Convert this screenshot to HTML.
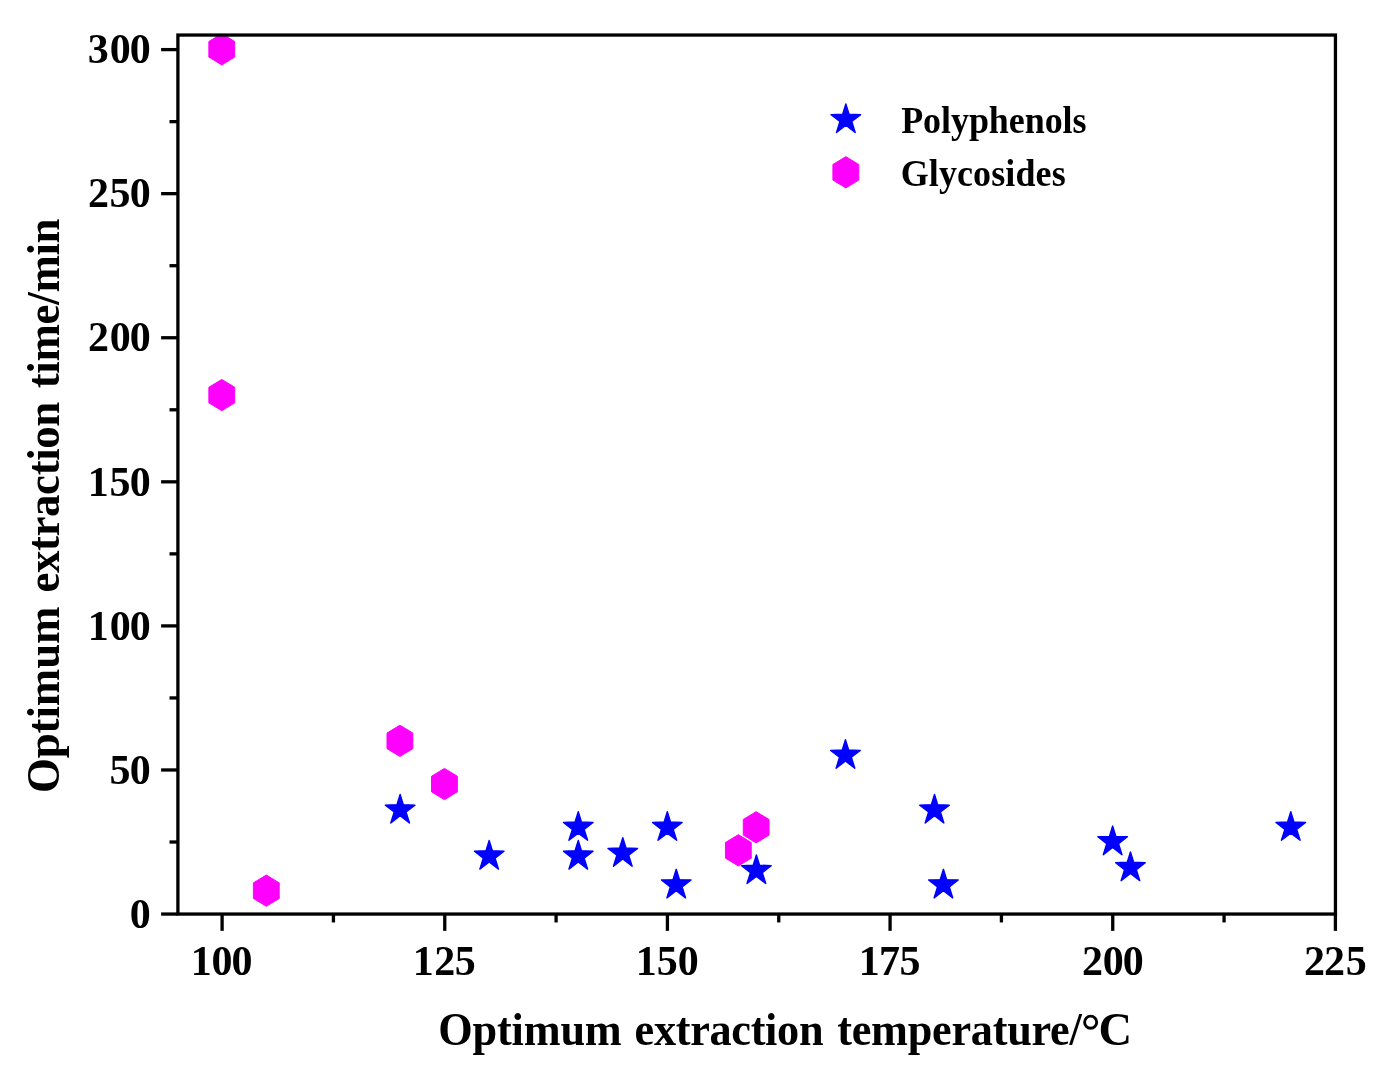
<!DOCTYPE html>
<html><head><meta charset="utf-8"><title>Chart</title>
<style>
html,body{margin:0;padding:0;background:#fff;}
body{width:1398px;height:1068px;overflow:hidden;}
svg{display:block;will-change:transform;}
text{font-family:"Liberation Serif",serif;font-weight:bold;fill:#000;}
.tk{font-size:42.0px;letter-spacing:0px;}
.ti{font-size:44.3px;}
.ti2{font-size:44.9px;}
.lg{font-size:36px;}
</style></head><body>
<svg width="1398" height="1068" viewBox="0 0 1398 1068">
<rect x="0" y="0" width="1398" height="1068" fill="#fff"/>
<defs><clipPath id="plot"><rect x="177.9" y="35.05" width="1157.55" height="879.0"/></clipPath></defs>
<g clip-path="url(#plot)">
<polygon points="400.13,794.39 403.32,804.67 414.93,805.12 406.03,812.07 409.48,823.02 400.13,815.82 390.78,823.02 394.23,812.07 385.33,805.12 396.94,804.67" fill="#0000ff" stroke="#0000ff" stroke-width="1.4" stroke-linejoin="round"/>
<polygon points="489.19,840.49 492.38,850.77 503.99,851.22 495.09,858.17 498.54,869.12 489.19,861.92 479.84,869.12 483.29,858.17 474.39,851.22 486.00,850.77" fill="#0000ff" stroke="#0000ff" stroke-width="1.4" stroke-linejoin="round"/>
<polygon points="578.26,811.68 581.45,821.96 593.06,822.40 584.16,829.36 587.61,840.31 578.26,833.11 568.91,840.31 572.36,829.36 563.46,822.40 575.07,821.96" fill="#0000ff" stroke="#0000ff" stroke-width="1.4" stroke-linejoin="round"/>
<polygon points="578.26,840.49 581.45,850.77 593.06,851.22 584.16,858.17 587.61,869.12 578.26,861.92 568.91,869.12 572.36,858.17 563.46,851.22 575.07,850.77" fill="#0000ff" stroke="#0000ff" stroke-width="1.4" stroke-linejoin="round"/>
<polygon points="622.79,837.61 625.98,847.89 637.59,848.34 628.69,855.29 632.14,866.24 622.79,859.04 613.44,866.24 616.89,855.29 607.99,848.34 619.60,847.89" fill="#0000ff" stroke="#0000ff" stroke-width="1.4" stroke-linejoin="round"/>
<polygon points="667.32,811.68 670.51,821.96 682.12,822.40 673.22,829.36 676.67,840.31 667.32,833.11 657.97,840.31 661.42,829.36 652.52,822.40 664.13,821.96" fill="#0000ff" stroke="#0000ff" stroke-width="1.4" stroke-linejoin="round"/>
<polygon points="676.23,869.30 679.42,879.58 691.03,880.03 682.13,886.98 685.58,897.93 676.23,890.73 666.88,897.93 670.33,886.98 661.43,880.03 673.04,879.58" fill="#0000ff" stroke="#0000ff" stroke-width="1.4" stroke-linejoin="round"/>
<polygon points="756.38,854.90 759.57,865.18 771.18,865.63 762.28,872.58 765.73,883.53 756.38,876.33 747.03,883.53 750.48,872.58 741.58,865.63 753.19,865.18" fill="#0000ff" stroke="#0000ff" stroke-width="1.4" stroke-linejoin="round"/>
<polygon points="845.45,739.64 848.64,749.92 860.25,750.37 851.35,757.32 854.80,768.27 845.45,761.07 836.10,768.27 839.55,757.32 830.65,750.37 842.26,749.92" fill="#0000ff" stroke="#0000ff" stroke-width="1.4" stroke-linejoin="round"/>
<polygon points="934.51,794.39 937.70,804.67 949.31,805.12 940.41,812.07 943.86,823.02 934.51,815.82 925.16,823.02 928.61,812.07 919.71,805.12 931.32,804.67" fill="#0000ff" stroke="#0000ff" stroke-width="1.4" stroke-linejoin="round"/>
<polygon points="943.42,869.30 946.61,879.58 958.22,880.03 949.32,886.98 952.77,897.93 943.42,890.73 934.07,897.93 937.52,886.98 928.62,880.03 940.23,879.58" fill="#0000ff" stroke="#0000ff" stroke-width="1.4" stroke-linejoin="round"/>
<polygon points="1112.64,826.08 1115.83,836.36 1127.44,836.81 1118.54,843.76 1121.99,854.71 1112.64,847.51 1103.29,854.71 1106.74,843.76 1097.84,836.81 1109.45,836.36" fill="#0000ff" stroke="#0000ff" stroke-width="1.4" stroke-linejoin="round"/>
<polygon points="1130.45,852.02 1133.64,862.30 1145.25,862.75 1136.35,869.70 1139.80,880.65 1130.45,873.45 1121.10,880.65 1124.55,869.70 1115.65,862.75 1127.26,862.30" fill="#0000ff" stroke="#0000ff" stroke-width="1.4" stroke-linejoin="round"/>
<polygon points="1290.77,811.68 1293.96,821.96 1305.57,822.40 1296.67,829.36 1300.12,840.31 1290.77,833.11 1281.42,840.31 1284.87,829.36 1275.97,822.40 1287.58,821.96" fill="#0000ff" stroke="#0000ff" stroke-width="1.4" stroke-linejoin="round"/>
<polygon points="221.77,33.64 234.67,41.46 234.67,57.09 221.77,64.90 208.87,57.09 208.87,41.46" fill="#ff00ff" stroke="#ff00ff" stroke-width="1.0" stroke-linejoin="round"/>
<polygon points="221.77,379.42 234.67,387.24 234.67,402.87 221.77,410.68 208.87,402.87 208.87,387.24" fill="#ff00ff" stroke="#ff00ff" stroke-width="1.0" stroke-linejoin="round"/>
<polygon points="266.30,875.04 279.20,882.85 279.20,898.48 266.30,906.30 253.40,898.48 253.40,882.85" fill="#ff00ff" stroke="#ff00ff" stroke-width="1.0" stroke-linejoin="round"/>
<polygon points="399.90,725.20 412.80,733.01 412.80,748.64 399.90,756.46 387.00,748.64 387.00,733.01" fill="#ff00ff" stroke="#ff00ff" stroke-width="1.0" stroke-linejoin="round"/>
<polygon points="444.43,768.42 457.33,776.24 457.33,791.87 444.43,799.68 431.53,791.87 431.53,776.24" fill="#ff00ff" stroke="#ff00ff" stroke-width="1.0" stroke-linejoin="round"/>
<polygon points="738.34,834.70 751.24,842.51 751.24,858.14 738.34,865.96 725.44,858.14 725.44,842.51" fill="#ff00ff" stroke="#ff00ff" stroke-width="1.0" stroke-linejoin="round"/>
<polygon points="756.15,811.64 769.05,819.46 769.05,835.09 756.15,842.90 743.25,835.09 743.25,819.46" fill="#ff00ff" stroke="#ff00ff" stroke-width="1.0" stroke-linejoin="round"/>
</g>
<g stroke="#000" stroke-width="3.3" fill="none" stroke-linecap="butt">
<rect x="177.9" y="35.05" width="1157.55" height="879.0"/>
<line x1="161.10" y1="914.05" x2="177.90" y2="914.05"/>
<line x1="169.50" y1="842.01" x2="177.90" y2="842.01"/>
<line x1="161.10" y1="769.97" x2="177.90" y2="769.97"/>
<line x1="169.50" y1="697.94" x2="177.90" y2="697.94"/>
<line x1="161.10" y1="625.90" x2="177.90" y2="625.90"/>
<line x1="169.50" y1="553.86" x2="177.90" y2="553.86"/>
<line x1="161.10" y1="481.82" x2="177.90" y2="481.82"/>
<line x1="169.50" y1="409.79" x2="177.90" y2="409.79"/>
<line x1="161.10" y1="337.75" x2="177.90" y2="337.75"/>
<line x1="169.50" y1="265.71" x2="177.90" y2="265.71"/>
<line x1="161.10" y1="193.67" x2="177.90" y2="193.67"/>
<line x1="169.50" y1="121.64" x2="177.90" y2="121.64"/>
<line x1="161.10" y1="49.60" x2="177.90" y2="49.60"/>
<line x1="222.10" y1="914.05" x2="222.10" y2="930.85"/>
<line x1="333.43" y1="914.05" x2="333.43" y2="922.45"/>
<line x1="444.76" y1="914.05" x2="444.76" y2="930.85"/>
<line x1="556.09" y1="914.05" x2="556.09" y2="922.45"/>
<line x1="667.42" y1="914.05" x2="667.42" y2="930.85"/>
<line x1="778.75" y1="914.05" x2="778.75" y2="922.45"/>
<line x1="890.08" y1="914.05" x2="890.08" y2="930.85"/>
<line x1="1001.41" y1="914.05" x2="1001.41" y2="922.45"/>
<line x1="1112.74" y1="914.05" x2="1112.74" y2="930.85"/>
<line x1="1224.07" y1="914.05" x2="1224.07" y2="922.45"/>
<line x1="1335.40" y1="914.05" x2="1335.40" y2="930.85"/>
</g>
<text class="tk" transform="translate(0,927.75) scale(1,1.016)" x="129.70">0</text>
<text class="tk" transform="translate(0,783.67) scale(1,1.016)" x="109.63 129.70">50</text>
<text class="tk" transform="translate(0,639.60) scale(1,1.016)" x="87.86 109.70 129.70">100</text>
<text class="tk" transform="translate(0,495.52) scale(1,1.016)" x="87.86 109.63 129.70">150</text>
<text class="tk" transform="translate(0,351.45) scale(1,1.016)" x="88.12 109.70 129.70">200</text>
<text class="tk" transform="translate(0,207.37) scale(1,1.016)" x="88.12 109.63 129.70">250</text>
<text class="tk" transform="translate(0,63.30) scale(1,1.016)" x="87.73 109.70 129.70">300</text>
<text class="tk" transform="translate(0,974.90) scale(1,1.016)" x="190.71 211.50 231.55">100</text>
<text class="tk" transform="translate(0,974.90) scale(1,1.016)" x="412.86 434.30 454.63">125</text>
<text class="tk" transform="translate(0,974.90) scale(1,1.016)" x="635.86 656.75 677.70">150</text>
<text class="tk" transform="translate(0,974.90) scale(1,1.016)" x="858.86 879.01 899.63">175</text>
<text class="tk" transform="translate(0,974.90) scale(1,1.016)" x="1081.97 1102.70 1122.70">200</text>
<text class="tk" transform="translate(0,974.90) scale(1,1.016)" x="1304.12 1324.12 1345.63">225</text>
<text class="ti" transform="translate(438.30,1045.30) scale(1,1.045)" text-anchor="start" textLength="183.44" lengthAdjust="spacing">Optimum</text>
<text class="ti" transform="translate(634.60,1045.30) scale(1,1.045)" text-anchor="start" textLength="188.94" lengthAdjust="spacing">extraction</text>
<text class="ti" transform="translate(837.15,1045.30) scale(1,1.045)" text-anchor="start" textLength="244.66" lengthAdjust="spacing">temperature/</text>
<circle cx="1090.65" cy="1022.2" r="6.05" fill="none" stroke="#000" stroke-width="2.9"/>
<text class="ti" transform="translate(1098.60,1045.3) scale(1.05,1.045)">C</text>
<text class="ti2" transform="translate(58.85,793.10) rotate(-90) scale(1,1.03)" text-anchor="start" textLength="186.52" lengthAdjust="spacing">Optimum</text>
<text class="ti2" transform="translate(58.85,592.60) rotate(-90) scale(1,1.03)" text-anchor="start" textLength="190.91" lengthAdjust="spacing">extraction</text>
<text class="ti2" transform="translate(58.85,388.30) rotate(-90) scale(1,1.03)" text-anchor="start" textLength="169.90" lengthAdjust="spacing">time/min</text>
<polygon points="845.85,103.85 849.04,114.13 860.65,114.58 851.75,121.53 855.20,132.48 845.85,125.28 836.50,132.48 839.95,121.53 831.05,114.58 842.66,114.13" fill="#0000ff" stroke="#0000ff" stroke-width="1.4" stroke-linejoin="round"/>
<polygon points="845.82,156.64 858.72,164.45 858.72,180.08 845.82,187.90 832.92,180.08 832.92,164.45" fill="#ff00ff" stroke="#ff00ff" stroke-width="1.0" stroke-linejoin="round"/>
<text class="lg" transform="translate(901.20,132.90) scale(1,1.025)" text-anchor="start" textLength="185.35" lengthAdjust="spacing">Polyphenols</text>
<text class="lg" transform="translate(900.70,185.90) scale(1,1.025)" text-anchor="start" textLength="165.0" lengthAdjust="spacing">Glycosides</text>
</svg></body></html>
